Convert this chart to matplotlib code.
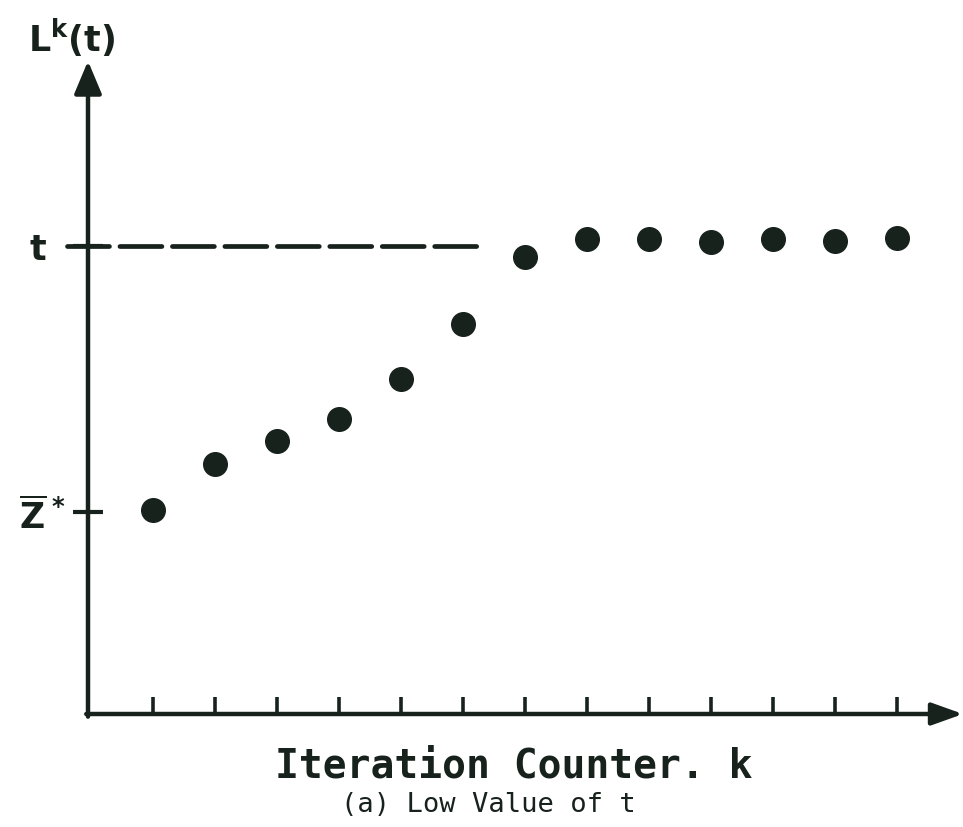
import matplotlib
matplotlib.use("Agg")
import matplotlib.pyplot as plt
from matplotlib.transforms import ScaledTranslation

plt.rcParams['mathtext.fontset'] = 'dejavusans'

# ---- data ----
k_values = [1, 2, 3, 4, 5, 6, 7, 8, 9, 10, 11, 12, 13]
lk_values = [0.436, 0.534, 0.583, 0.630, 0.716, 0.833, 0.976,
             1.015, 1.015, 1.009, 1.015, 1.011, 1.017]
t_level = 1.0
z_star = 0.432
x_ticks = list(range(1, 14))
y_tick_labels = [r'$\overline{\mathbf{Z}}^{\;\mathbf{*}}$', r'$\mathbf{t}$']
x_label = "Iteration Counter. k"
subtitle = "(a) Low Value of t"
y_title = r'$\mathbf{L}^{\mathbf{k}}\mathbf{(t)}$'

INK = '#18221d'
W, H = 963, 828
fig = plt.figure(figsize=(W / 100, H / 100), dpi=100)
fig.patch.set_facecolor('white')

ax_l, ax_r, ax_b, ax_t = 88, 963, 715, 62
ax = fig.add_axes([ax_l / W, 1 - ax_b / H, (ax_r - ax_l) / W, (ax_b - ax_t) / H])
ax.set_xlim(-0.048, 14.06)
ax.set_ylim(0, 1.395)
for s in ax.spines.values():
    s.set_visible(False)
ax.set_facecolor('none')

# axes lines with arrowheads
ax.annotate('', xy=(0, 1), xytext=(0, -0.004), xycoords='axes fraction',
            arrowprops=dict(arrowstyle='-|>,head_length=1.0,head_width=0.42',
                            mutation_scale=20, lw=3.2, color=INK,
                            shrinkA=0, shrinkB=0), annotation_clip=False)
ax.annotate('', xy=(1, 0), xytext=(-0.002, 0), xycoords='axes fraction',
            arrowprops=dict(arrowstyle='-|>,head_length=0.95,head_width=0.34',
                            mutation_scale=20, lw=3.2, color=INK,
                            shrinkA=0, shrinkB=0), annotation_clip=False)

# ticks
ax.set_xticks(x_ticks)
ax.set_xticklabels([])
ax.tick_params(axis='x', direction='in', length=12, width=2.6, color=INK)
ax.set_yticks([z_star, t_level])
ax.set_yticklabels(y_tick_labels, fontsize=25, color=INK)
ax.tick_params(axis='y', direction='inout', length=22, width=3.0, color=INK, pad=5)
labels = ax.get_yticklabels()
labels[1].set_transform(labels[1].get_transform() + ScaledTranslation(-0.19, 0, fig.dpi_scale_trans))

# dashed line at t
ax.plot([-0.387, 6.22], [t_level, t_level], color=INK, lw=3.4,
        dashes=(42 / 1.39 / 3.4, 10.5 / 1.39 / 3.4), solid_capstyle='round',
        dash_capstyle='round', clip_on=False)

# points
ax.plot(k_values, lk_values, 'o', ms=17, color=INK, clip_on=False)

# texts
fig.text(28 / W, 1 - 52 / H, y_title, fontsize=25, color=INK, ha='left', va='baseline')
ax.set_xlabel(x_label, fontsize=28.5, fontweight='bold', family='DejaVu Sans Mono',
              color=INK, va='baseline')
ax.xaxis.set_label_coords((514 - ax_l) / (ax_r - ax_l), -(778 - ax_b) / (ax_b - ax_t))
fig.text(488 / W, 1 - 812 / H, subtitle, fontsize=19.5, family='DejaVu Sans Mono',
         color=INK, ha='center', va='baseline')

fig.savefig('out.png', dpi=100, facecolor='white')
